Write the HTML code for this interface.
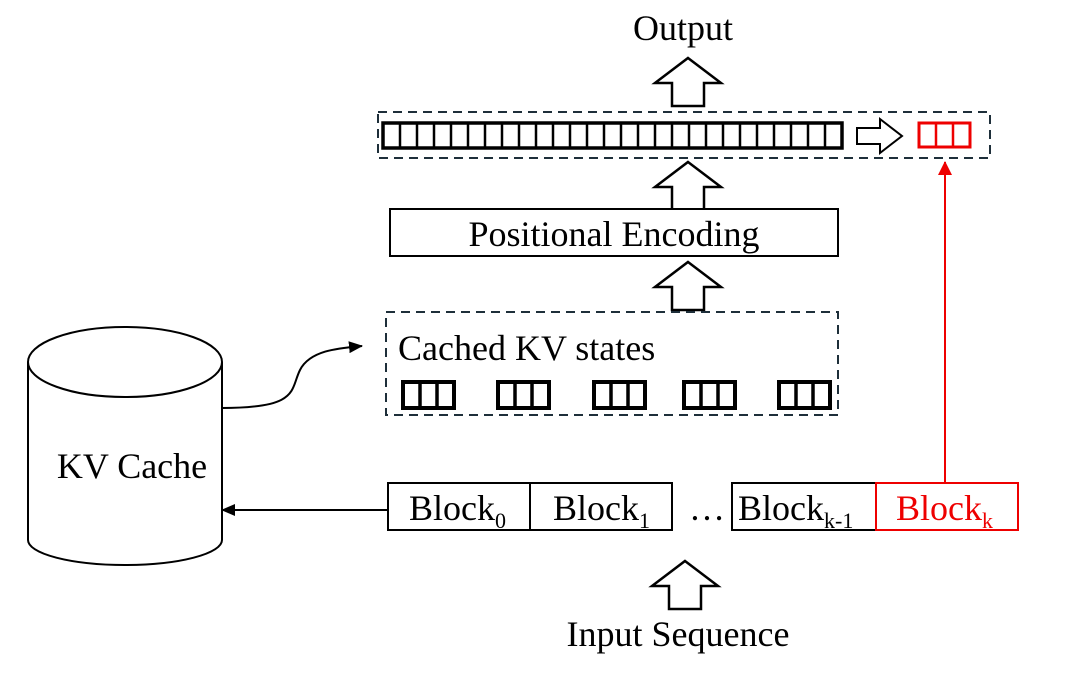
<!DOCTYPE html>
<html><head><meta charset="utf-8"><style>
html,body{margin:0;padding:0;background:#fff;}
svg{display:block;}
text{font-family:"Liberation Serif",serif;font-size:36px;fill:#000;}
</style></head><body>
<svg width="1080" height="684" viewBox="0 0 1080 684" xmlns="http://www.w3.org/2000/svg">
<defs>
<marker id="ab" markerWidth="14" markerHeight="12" refX="13" refY="6" orient="auto" markerUnits="userSpaceOnUse"><path d="M0,0 L14,6 L0,12 z" fill="#000"/></marker>
<marker id="ar" markerWidth="14" markerHeight="14" refX="13" refY="7" orient="auto" markerUnits="userSpaceOnUse"><path d="M0,0 L14,7 L0,14 z" fill="#e00"/></marker>
<g id="up"><path d="M0,0 L33,25 L16,25 L16,48 L-16,48 L-16,25 L-33,25 Z" fill="#fff" stroke="#000" stroke-width="2.5"/></g>
<g id="kv"><rect x="0" y="0" width="51" height="26" fill="none" stroke="#000" stroke-width="4"/><line x1="17" y1="0" x2="17" y2="26" stroke="#000" stroke-width="3.5"/><line x1="34" y1="0" x2="34" y2="26" stroke="#000" stroke-width="3.5"/></g>
</defs>
<text x="683" y="40" text-anchor="middle">Output</text>
<use href="#up" x="688" y="58"/>
<rect x="378" y="112" width="612" height="46" fill="none" stroke="#1e2f3a" stroke-width="2" stroke-dasharray="9,6"/>
<rect x="383" y="123" width="459" height="25" fill="none" stroke="#000" stroke-width="3.5"/>
<g stroke="#000" stroke-width="2.5">
<line x1="400" y1="123" x2="400" y2="148"/><line x1="417" y1="123" x2="417" y2="148"/><line x1="434" y1="123" x2="434" y2="148"/><line x1="451" y1="123" x2="451" y2="148"/><line x1="468" y1="123" x2="468" y2="148"/><line x1="485" y1="123" x2="485" y2="148"/><line x1="502" y1="123" x2="502" y2="148"/><line x1="519" y1="123" x2="519" y2="148"/><line x1="536" y1="123" x2="536" y2="148"/><line x1="553" y1="123" x2="553" y2="148"/><line x1="570" y1="123" x2="570" y2="148"/><line x1="587" y1="123" x2="587" y2="148"/><line x1="604" y1="123" x2="604" y2="148"/><line x1="621" y1="123" x2="621" y2="148"/><line x1="638" y1="123" x2="638" y2="148"/><line x1="655" y1="123" x2="655" y2="148"/><line x1="672" y1="123" x2="672" y2="148"/><line x1="689" y1="123" x2="689" y2="148"/><line x1="706" y1="123" x2="706" y2="148"/><line x1="723" y1="123" x2="723" y2="148"/><line x1="740" y1="123" x2="740" y2="148"/><line x1="757" y1="123" x2="757" y2="148"/><line x1="774" y1="123" x2="774" y2="148"/><line x1="791" y1="123" x2="791" y2="148"/><line x1="808" y1="123" x2="808" y2="148"/><line x1="825" y1="123" x2="825" y2="148"/>
</g>
<path d="M857,128 L880,128 L880,119 L902,136 L880,153 L880,144 L857,144 Z" fill="#fff" stroke="#000" stroke-width="2"/>
<rect x="919" y="123" width="51" height="24" fill="none" stroke="#e00" stroke-width="3"/>
<line x1="936" y1="123" x2="936" y2="147" stroke="#e00" stroke-width="2.5"/>
<line x1="953" y1="123" x2="953" y2="147" stroke="#e00" stroke-width="2.5"/>
<line x1="945" y1="483" x2="945" y2="162" stroke="#e00" stroke-width="2" marker-end="url(#ar)"/>
<use href="#up" x="688" y="162"/>
<rect x="390" y="209" width="448" height="47" fill="#fff" stroke="#000" stroke-width="2"/>
<text x="614" y="246" text-anchor="middle">Positional Encoding</text>
<use href="#up" x="688" y="262"/>
<rect x="386" y="312" width="452" height="103" fill="none" stroke="#1e2f3a" stroke-width="2" stroke-dasharray="9,6"/>
<text x="398" y="360">Cached KV states</text>
<use href="#kv" x="403" y="382"/><use href="#kv" x="498" y="382"/><use href="#kv" x="594" y="382"/><use href="#kv" x="684" y="382"/><use href="#kv" x="779" y="382"/>
<path d="M28,362 L28,540 A97,25 0 0 0 222,540 L222,362" fill="#fff" stroke="#000" stroke-width="2"/>
<ellipse cx="125" cy="362" rx="97" ry="35" fill="#fff" stroke="#000" stroke-width="2"/>
<text x="132" y="478" text-anchor="middle">KV Cache</text>
<path d="M222,408 C300,408 290,390 300,370 C310,350 340,348 362,346" fill="none" stroke="#000" stroke-width="2" marker-end="url(#ab)"/>
<line x1="388" y1="510" x2="222" y2="510" stroke="#000" stroke-width="2" marker-end="url(#ab)"/>
<rect x="388" y="483" width="142" height="47" fill="#fff" stroke="#000" stroke-width="2"/>
<rect x="530" y="483" width="142" height="47" fill="#fff" stroke="#000" stroke-width="2"/>
<rect x="732" y="483" width="144" height="47" fill="#fff" stroke="#000" stroke-width="2"/>
<rect x="876" y="483" width="142" height="47" fill="#fff" stroke="#e00" stroke-width="2"/>
<text x="409" y="520">Block<tspan font-size="22" dy="8">0</tspan></text>
<text x="553" y="520">Block<tspan font-size="22" dy="8">1</tspan></text>
<text x="689" y="520">…</text>
<text x="738" y="520">Block<tspan font-size="22" dy="8">k-1</tspan></text>
<text x="896" y="520" style="fill:#e00">Block<tspan font-size="22" dy="8" style="fill:#e00">k</tspan></text>
<use href="#up" x="685" y="561"/>
<text x="678" y="646" text-anchor="middle">Input Sequence</text>
</svg>
</body></html>
